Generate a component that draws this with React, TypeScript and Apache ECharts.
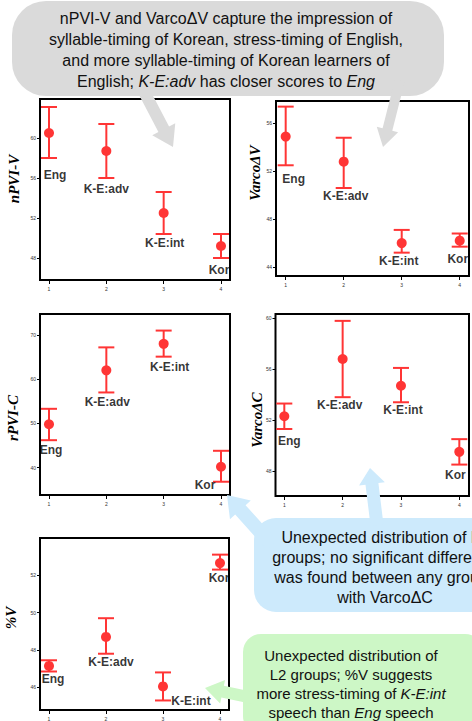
import React, { useEffect, useRef } from "react";
import * as echarts from "echarts";

const groups = ["Eng", "K-E:adv", "K-E:int", "Kor"];
const groupX = [1, 2, 3, 4];
const xTicks = [1, 2, 3, 4];

const npviMean = [60.5, 58.7, 52.5, 49.2];
const npviLow = [58.0, 56.0, 50.4, 48.0];
const npviHigh = [63.1, 61.4, 54.6, 50.4];
const npviTicks = [48, 52, 56, 60];

const varcoVMean = [54.9, 52.8, 46.0, 46.2];
const varcoVLow = [52.5, 50.6, 45.2, 45.7];
const varcoVHigh = [57.4, 54.8, 47.1, 46.8];
const varcoVTicks = [44, 48, 52, 56];

const rpviMean = [49.8, 62.0, 68.0, 40.2];
const rpviLow = [46.2, 57.0, 65.1, 36.8];
const rpviHigh = [53.3, 67.2, 71.0, 43.8];
const rpviTicks = [40, 50, 60, 70];

const varcoCMean = [52.3, 56.8, 54.7, 49.5];
const varcoCLow = [51.3, 53.8, 53.4, 48.5];
const varcoCHigh = [53.3, 59.8, 56.1, 50.5];
const varcoCTicks = [48, 52, 56, 60];

const pctVMean = [47.15, 48.7, 46.05, 52.65];
const pctVLow = [46.85, 47.8, 45.3, 52.3];
const pctVHigh = [47.45, 49.7, 46.8, 53.1];
const pctVTicks = [46, 48, 50, 52];

const RED = "#ff3535";
const SANS = "'Liberation Sans', Arial, sans-serif";
const SERIF = "'Liberation Serif', 'Times New Roman', serif";

type Panel = {
  grid: { left: number; top: number; width: number; height: number };
  xMin: number; xMax: number; yMin: number; yMax: number;
  ticks: number[]; mean: number[]; low: number[]; high: number[];
  offsets: number[][];
  title: string; titleX: number; titleY: number;
};

const panels: Panel[] = [
  { grid: { left: 40, top: 99, width: 190, height: 181 }, xMin: 0.843, xMax: 4.157, yMin: 45.8, yMax: 63.9,
    ticks: npviTicks, mean: npviMean, low: npviLow, high: npviHigh,
    offsets: [[6, 10], [0, 4], [1, 2], [-2, 5]], title: "nPVI-V", titleX: 14, titleY: 179 },
  { grid: { left: 276, top: 101, width: 193, height: 175 }, xMin: 0.833, xMax: 4.16, yMin: 43.25, yMax: 57.87,
    ticks: varcoVTicks, mean: varcoVMean, low: varcoVLow, high: varcoVHigh,
    offsets: [[8, 7], [2, 1], [-3, 1], [-2, 5]], title: "Varco\u0394V", titleX: 255, titleY: 173 },
  { grid: { left: 40, top: 314, width: 190, height: 181 }, xMin: 0.843, xMax: 4.157, yMin: 33.8, yMax: 74.75,
    ticks: rpviTicks, mean: rpviMean, low: rpviLow, high: rpviHigh,
    offsets: [[2, 3], [1, 3], [6, 3], [-16, -4]], title: "rPVI-C", titleX: 13, titleY: 418 },
  { grid: { left: 275.5, top: 314, width: 193.5, height: 182 }, xMin: 0.849, xMax: 4.166, yMin: 46.03, yMax: 60.34,
    ticks: varcoCTicks, mean: varcoCMean, low: varcoCLow, high: varcoCHigh,
    offsets: [[5, 5], [-3, 1], [2, 1], [-4, 3]], title: "Varco\u0394C", titleX: 257, titleY: 420 },
  { grid: { left: 40, top: 538, width: 189, height: 172 }, xMin: 0.842, xMax: 4.158, yMin: 44.79, yMax: 53.99,
    ticks: pctVTicks, mean: pctVMean, low: pctVLow, high: pctVHigh,
    offsets: [[4, 1], [5, 1], [28, -6], [-1, 1]], title: "%V", titleX: 11, titleY: 618 },
];

function arrowPoints(x1: number, y1: number, x2: number, y2: number, w: number, hw: number, hl: number) {
  const dx = x2 - x1, dy = y2 - y1;
  const L = Math.hypot(dx, dy);
  const ux = dx / L, uy = dy / L;
  const nx = -uy, ny = ux;
  const bx = x2 - ux * hl, by = y2 - uy * hl;
  return [
    [x1 + (nx * w) / 2, y1 + (ny * w) / 2],
    [bx + (nx * w) / 2, by + (ny * w) / 2],
    [bx + (nx * hw) / 2, by + (ny * hw) / 2],
    [x2, y2],
    [bx - (nx * hw) / 2, by - (ny * hw) / 2],
    [bx - (nx * w) / 2, by - (ny * w) / 2],
    [x1 - (nx * w) / 2, y1 - (ny * w) / 2],
  ];
}

export default function App() {
  const ref = useRef<HTMLDivElement>(null);
  useEffect(() => {
    document.body.style.margin = "0";
    if (!ref.current) return;
    const chart = echarts.init(ref.current, null, { renderer: "svg" });

    const grids: any[] = [];
    const xAxes: any[] = [];
    const yAxes: any[] = [];
    const series: any[] = [];
    const graphics: any[] = [];

    panels.forEach((p, i) => {
      grids.push({ ...p.grid, show: true, borderColor: "#000", borderWidth: 2, backgroundColor: "transparent", containLabel: false });
      xAxes.push({
        type: "value", gridIndex: i, min: p.xMin, max: p.xMax,
        axisLine: { show: false }, splitLine: { show: false },
        axisTick: { show: true, length: 4, customValues: xTicks, lineStyle: { color: "#000", width: 1 } },
        axisLabel: { show: true, customValues: xTicks, fontSize: 5, color: "#333", margin: 6, fontFamily: SANS },
      });
      yAxes.push({
        type: "value", gridIndex: i, min: p.yMin, max: p.yMax,
        axisLine: { show: false }, splitLine: { show: false },
        axisTick: { show: true, length: 3, customValues: p.ticks, lineStyle: { color: "#000", width: 1 } },
        axisLabel: { show: true, customValues: p.ticks, fontSize: 5, color: "#333", margin: 4, fontFamily: SANS },
      });
      series.push({
        type: "custom", xAxisIndex: i, yAxisIndex: i, silent: true, z: 5,
        data: groupX.map((x, k) => [x, p.mean[k], p.low[k], p.high[k]]),
        renderItem: (_params: any, api: any) => {
          const x = api.value(0);
          const m = api.coord([x, api.value(1)]);
          const lo = api.coord([x, api.value(2)]);
          const hi = api.coord([x, api.value(3)]);
          const st = { stroke: RED, lineWidth: 2 };
          return {
            type: "group",
            children: [
              { type: "line", shape: { x1: m[0], y1: lo[1], x2: m[0], y2: hi[1] }, style: st },
              { type: "line", shape: { x1: m[0] - 8, y1: lo[1], x2: m[0] + 8, y2: lo[1] }, style: st },
              { type: "line", shape: { x1: m[0] - 8, y1: hi[1], x2: m[0] + 8, y2: hi[1] }, style: st },
              { type: "circle", shape: { cx: m[0], cy: m[1], r: 5 }, style: { fill: RED } },
            ],
          };
        },
      });
      series.push({
        type: "scatter", xAxisIndex: i, yAxisIndex: i, symbolSize: 0, silent: true, z: 6,
        data: groupX.map((x, k) => ({
          value: [x, p.low[k]], name: groups[k],
          label: { offset: p.offsets[k] },
        })),
        label: {
          show: true, position: "bottom", distance: 0, formatter: "{b}",
          fontFamily: SANS, fontWeight: "bold", fontSize: 12, lineHeight: 14, color: "#000",
        },
      });
      graphics.push({
        type: "text", x: p.titleX, y: p.titleY, rotation: Math.PI / 2, z: 50,
        style: { text: p.title, align: "center", verticalAlign: "middle", font: `italic bold 15px ${SERIF}`, fill: "#000" },
      });
    });

    // Gray callout
    graphics.push({ type: "rect", z: 100, shape: { x: 12, y: 1, width: 432, height: 95, r: 34 }, style: { fill: "#dadada" } });
    graphics.push({ type: "polygon", z: 100, shape: { points: arrowPoints(138, 80, 173, 147, 12, 26, 20) }, style: { fill: "#dadada" } });
    graphics.push({ type: "polygon", z: 100, shape: { points: arrowPoints(400, 80, 383, 147, 10, 22, 18) }, style: { fill: "#dadada" } });
    const grayLines = [
      "nPVI-V and Varco\u0394V capture the impression of",
      "syllable-timing of Korean, stress-timing of English,",
      "and more syllable-timing of Korean learners of",
      "English; {i|K-E:adv} has closer scores to {i|Eng}",
    ];
    grayLines.forEach((t, k) => {
      graphics.push({
        type: "text", z: 101, x: 226, y: 18 + k * 21,
        style: {
          text: t, align: "center", verticalAlign: "middle", fill: "#111",
          fontFamily: SANS, fontSize: 16,
          rich: { i: { fontStyle: "italic", fontFamily: SANS, fontSize: 16, fill: "#111" } },
        },
      });
    });

    // Blue callout
    graphics.push({ type: "rect", z: 100, shape: { x: 254, y: 518, width: 240, height: 94, r: 22 }, style: { fill: "#cdeafc" } });
    graphics.push({ type: "polygon", z: 100, shape: { points: arrowPoints(272, 545, 227, 495, 14, 28, 20) }, style: { fill: "#cdeafc" } });
    graphics.push({ type: "polygon", z: 100, shape: { points: arrowPoints(377, 525, 370, 468, 13, 26, 16) }, style: { fill: "#cdeafc" } });
    const blueLines = [
      "Unexpected distribution of L2",
      "groups; no significant difference",
      "was found between any groups",
      "with Varco\u0394C",
    ];
    blueLines.forEach((t, k) => {
      graphics.push({
        type: "text", z: 101, x: 385, y: 537 + k * 20,
        style: { text: t, align: "center", verticalAlign: "middle", fill: "#111", fontFamily: SANS, fontSize: 16 },
      });
    });

    // Green callout
    graphics.push({ type: "rect", z: 100, shape: { x: 243, y: 634, width: 240, height: 100, r: 18 }, style: { fill: "#cdf7c6" } });
    graphics.push({ type: "polygon", z: 100, shape: { points: arrowPoints(262, 700, 205, 688, 12, 24, 18) }, style: { fill: "#cdf7c6" } });
    const greenLines = [
      "Unexpected distribution of",
      "L2 groups; %V suggests",
      "more stress-timing of {i|K-E:int}",
      "speech than {i|Eng} speech",
    ];
    greenLines.forEach((t, k) => {
      graphics.push({
        type: "text", z: 101, x: 351, y: 655 + k * 19,
        style: {
          text: t, align: "center", verticalAlign: "middle", fill: "#111",
          fontFamily: SANS, fontSize: 15,
          rich: { i: { fontStyle: "italic", fontFamily: SANS, fontSize: 15, fill: "#111" } },
        },
      });
    });

    chart.setOption({
      animation: false,
      backgroundColor: "#fff",
      grid: grids,
      xAxis: xAxes,
      yAxis: yAxes,
      series,
      graphic: { elements: graphics },
    });
    return () => chart.dispose();
  }, []);
  return <div ref={ref} style={{ width: 472, height: 721 }} />;
}
